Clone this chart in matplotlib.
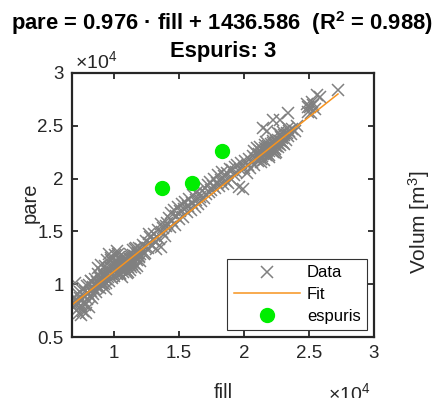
# -*- coding: utf-8 -*-
"""
 scatter pare vs fill with linear fit and spurious points
"""

import numpy as np
import matplotlib
matplotlib.use("Agg")
import matplotlib.pyplot as plt
from matplotlib.ticker import FuncFormatter

plt.rcParams['font.family'] = ['Liberation Sans', 'DejaVu Sans']
plt.rcParams['mathtext.fontset'] = 'custom'
plt.rcParams['mathtext.rm'] = 'Liberation Sans'
plt.rcParams['mathtext.default'] = 'regular'

# data (units: m3)
fill = [6750, 6900, 6950, 7000, 7050, 7100, 7150, 7200, 7250, 7300, 7350,
        7400, 7450, 7500, 7550, 7600, 7650, 7700, 7750, 7800, 7850,
        7900, 7950, 8000, 8050, 8100, 8150, 8200, 8250, 8300, 8350,
        8400, 8450, 8500,
        8550, 8600, 8650, 8700, 8750, 8800, 8850, 8900, 8950, 9000,
        9050, 9100, 9150, 9200, 9250, 9300, 9350, 9400, 9450, 9500,
        9550, 9600, 9650, 9700, 9750, 9800, 9850, 9900, 9950, 10000,
        10050, 10100, 10150, 10200, 10250, 10300, 10350, 10400, 10450, 10500,
        10550, 10600, 10650, 10700, 10750, 10800, 10850, 10900, 10950, 11000,
        11050, 11100, 11150, 11200, 11250, 11300, 11350, 11400, 11450, 11500,
        11550, 11600, 11650, 11700, 11750, 11800, 11850, 11900, 11950, 12000,
        8700, 8900, 9100, 9300, 9500, 9700, 9900, 10100, 10300, 10500,
        10700, 10900, 11100, 11300, 11500, 11700, 11900, 9000, 9600, 10200,
        10800, 11400, 8200, 8400, 7800, 11000, 11200, 11600, 11800, 12000,
        8800, 9400, 9800, 10400, 10600, 11250, 12400, 12700, 13200, 13600,
        12100, 12200, 12300, 12400, 12500, 12600, 12700, 12800, 12900, 13000,
        13100, 13200, 13300, 13400, 13500, 13600, 13700, 13800, 13900, 14000,
        14100, 14200, 14300, 14400, 14500, 14600, 14700, 14800, 14900, 15000,
        15100, 15200, 15300, 15400, 15500, 15600, 15700, 15800, 15900, 16000,
        16100, 16200, 16300, 16400, 16500,
        16600, 16700, 16800, 16900, 17000, 17100, 17200, 17300, 17400, 17500,
        17600, 17700, 17800, 17900, 18000, 18100, 18200, 18300, 18400, 18500,
        18600, 18700, 18800, 18900, 19000,
        19100, 19200, 19300, 19400, 19500, 19600, 19700, 19800, 19900, 20000,
        20100, 20200, 20300, 20400, 20500, 20600, 20700, 20800, 20900, 21000,
        21100, 21150, 21200, 21250, 21300, 21350, 21400, 21450, 21500, 21550,
        21600, 21650, 21700, 21750, 21800, 21850, 21900, 21950, 22000, 22050,
        22100, 22150, 22200, 22250, 22300, 22350, 22400, 22450, 22500, 22550,
        22600, 22650, 22700, 22750, 22800, 22850, 22900, 22950, 23000,
        23100, 23200, 23300, 23400, 23500,
        21000, 21300, 21600, 21900, 22200, 22500, 22800, 23100, 23400, 21700,
        22400, 23000, 20800, 21200, 23600,
        21460, 22230, 22770, 23390, 21800, 22600,
        23700, 23900, 24100,
        24850, 24900, 25050, 25150, 25300, 25450, 25650, 25850, 27230,
        24950, 25200]
pare = [8200, 8300, 8800, 10100, 8000, 8450, 7600, 9100, 8200, 7300, 8700,
        9300, 7900, 7100, 8500, 9600, 7500, 8900, 8100, 9400, 7300,
        9800, 8600, 9200, 7800, 9900, 8900, 9400, 10300, 8700, 9700,
        9100, 10000, 9500,
        10500, 9800, 9300, 10200, 9700, 11000, 10100, 9600, 10600, 10300,
        9900, 11200, 10400, 10000, 10800, 11700, 10500, 10100, 11000, 12300,
        10700, 10300, 11300, 10800, 12500, 11000, 10600, 11500, 11100, 10800,
        11700, 11300, 12200, 11000, 11600, 11200, 12000, 11500, 11100, 12400,
        11800, 11400, 12100, 11700, 12600, 11600, 12200, 11900, 11300, 12300,
        12000, 11600, 12500, 12100, 11800, 12600, 12300, 11900, 12800, 12400,
        12000, 12700, 13300, 12500, 12900, 12300, 13000, 12700, 13400, 12900,
        9900, 10700, 10100, 10900, 11300, 11600, 12000, 12800, 12900, 11000,
        11200, 12400, 11200, 11600, 13200, 13400, 12600, 11800, 12900, 13100,
        11900, 12200, 10300, 9600, 8000, 11100, 11300, 11500, 11700, 12200,
        11500, 9500, 12300, 12600, 10700, 12900, 13000, 14800, 13300, 15700,
        13300, 13700, 12900, 13500, 14100, 13400, 13900, 14500, 13700, 14200,
        14800, 14000, 14500, 15100, 14300, 13500, 14900, 15300, 14600, 15500,
        15800, 16300, 15400, 16700, 16000, 17000, 15600, 16500, 17300, 16200,
        16900, 17600, 16400, 17100, 17800, 16800, 17400, 18100, 17000, 17700,
        18400, 17300, 18000, 18700, 17600,
        18300, 17900, 18800, 18200, 19100, 18500, 19400, 18700, 19700, 18900,
        19300, 20000, 19100, 19600, 20300, 19300, 19900, 20600, 19500, 20200,
        19800, 20500, 19600, 20900, 20000,
        20800, 20300, 21100, 20600, 21300, 19200, 20900, 21500, 19000, 21000,
        21700, 20500, 21300, 21900, 21000, 21600, 22100, 21300, 21900, 22300,
        21700, 22300, 22000, 22600, 21900, 22400, 22100, 22700, 22300, 21800,
        22500, 22900, 22200, 22700, 22400, 23100, 22600, 22200, 22900, 23300,
        22700, 23000, 22500, 23400, 22900, 23200, 22800, 23600, 23100, 23400,
        23000, 23700, 23300, 23600, 23200, 23900, 23500, 23800, 23400,
        24100, 23700, 24300, 24000, 24500,
        22900, 21600, 23200, 22000, 23600, 22500, 24200, 23300, 24800, 23500,
        22400, 24400, 22600, 23000, 24200,
        24800, 25550, 25550, 26200, 24500, 24300,
        24700, 24500, 25000,
        27100, 26300, 26800, 26200, 27000, 26600, 27900, 27700, 28400,
        26800, 27300]

spur_fill = [13720, 15980, 18330]
spur_pare = [19140, 19610, 22640]

slope = 0.976
intercept = 1436.586
r2 = 0.988

fig = plt.figure(figsize=(4.36, 3.98), dpi=100)
ax = fig.add_axes([72 / 436, 1 - 337 / 398, 302 / 436, 264 / 398])

ax.plot(fill, pare, 'x', color='#808080', markersize=8, markeredgewidth=1.1,
        label='Data')
x_fit = np.array([min(fill), max(fill)])
ax.plot(x_fit, slope * x_fit + intercept, '-', color='#F7931E', linewidth=1.1,
        label='Fit')
ax.plot(spur_fill, spur_pare, 'o', color='#00EE00', markersize=10,
        markeredgecolor='#00EE00', label='espuris')

ax.set_xlim(6770, 30000)
ax.set_ylim(5000, 30000)
ax.set_xticks([10000, 15000, 20000, 25000, 30000])
ax.set_yticks([5000, 10000, 15000, 20000, 25000, 30000])
fmt = FuncFormatter(lambda v, p: ('%g' % (v / 1e4)))
ax.xaxis.set_major_formatter(fmt)
ax.yaxis.set_major_formatter(fmt)
ax.tick_params(direction='in', length=4, width=1.3, labelsize=13.5,
               top=True, right=True, pad=6, colors='#262626')
for s in ax.spines.values():
    s.set_linewidth(1.6)
    s.set_color('#262626')

leg = ax.legend(loc='lower right', fontsize=12, numpoints=1, handlelength=4.0,
                handletextpad=0.4, fancybox=False, framealpha=1,
                edgecolor='#333333', borderaxespad=0.4, labelspacing=0.4)
leg.get_frame().set_linewidth(0.8)

fig.text(222 / 436, 1 - 23 / 398,
         'pare = %.3f · fill + %.3f  (R$^2$ = %.3f)' % (slope, intercept, r2),
         ha='center', va='center', fontsize=15.8, fontweight='bold')
fig.text(223 / 436, 1 - 51 / 398, 'Espuris: 3', ha='center', va='center',
         fontsize=15.8, fontweight='bold')
fig.text(75 / 436, 1 - 61 / 398, '×10$^4$', ha='left', va='center',
         fontsize=14, color='#262626')
fig.text(328 / 436, 1 - 393 / 398, '×10$^4$', ha='left', va='center',
         fontsize=14, color='#262626')
fig.text(30 / 436, 1 - 203 / 398, 'pare', rotation=90, ha='center',
         va='center', fontsize=14.5, color='#262626')
fig.text(223 / 436, 1 - 393 / 398, 'fill', ha='center', va='center',
         fontsize=14.5, color='#262626')
fig.text(419 / 436, 1 - 222 / 398, 'Volum [m$^3$]', rotation=90,
         ha='center', va='center', fontsize=15, color='#262626')

fig.savefig('out.png', dpi=100)
